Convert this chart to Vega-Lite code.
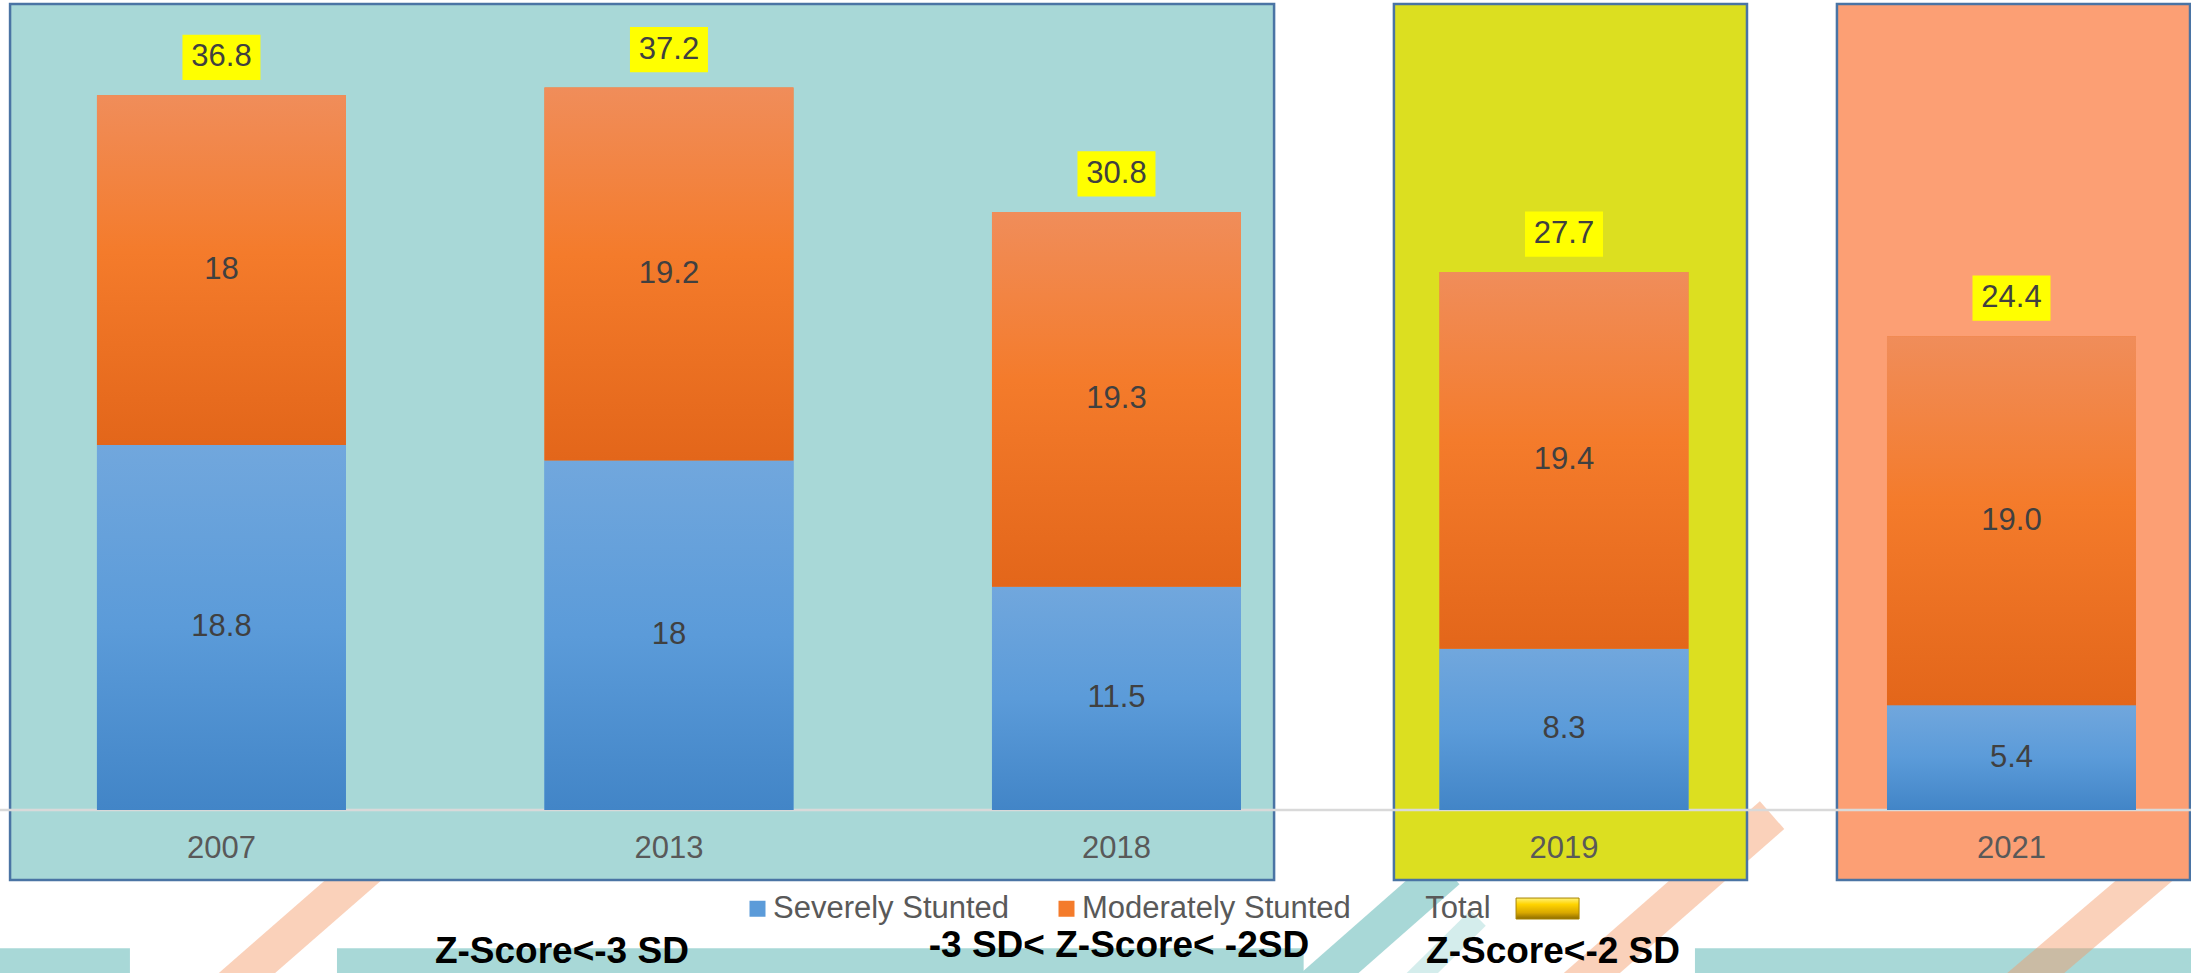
{
  "$schema": "https://vega.github.io/schema/vega-lite/v6.json",
  "width": 2191,
  "height": 973,
  "autosize": {"type": "none"},
  "padding": 0,
  "background": "#FFFFFF",
  "config": {"view": {"stroke": null}, "font": "Liberation Sans"},
  "datasets": {
    "bars": [
      {"year": "2007", "series": "Severely Stunted", "value": 18.8, "label": "18.8"},
      {"year": "2007", "series": "Moderately Stunted", "value": 18, "label": "18"},
      {"year": "2013", "series": "Severely Stunted", "value": 18, "label": "18"},
      {"year": "2013", "series": "Moderately Stunted", "value": 19.2, "label": "19.2"},
      {"year": "2018", "series": "Severely Stunted", "value": 11.5, "label": "11.5"},
      {"year": "2018", "series": "Moderately Stunted", "value": 19.3, "label": "19.3"},
      {"year": "2019", "series": "Severely Stunted", "value": 8.3, "label": "8.3"},
      {"year": "2019", "series": "Moderately Stunted", "value": 19.4, "label": "19.4"},
      {"year": "2021", "series": "Severely Stunted", "value": 5.4, "label": "5.4"},
      {"year": "2021", "series": "Moderately Stunted", "value": 19.0, "label": "19.0"}
    ],
    "totals": [
      {"year": "2007", "total": 36.8},
      {"year": "2013", "total": 37.2},
      {"year": "2018", "total": 30.8},
      {"year": "2019", "total": 27.7},
      {"year": "2021", "total": 24.4}
    ]
  },
  "layer": [
    {
      "layer": [
        {
          "data": {"values": [{"x": 0, "x2": 5.93}, {"x": 15.38, "x2": 59.5}, {"x": 77.36, "x2": 100}]},
          "mark": {"type": "rect", "fill": "#A8D8D7"},
          "encoding": {
            "x": {"field": "x", "type": "quantitative", "scale": {"domain": [0, 100], "nice": false, "zero": false}, "axis": null},
            "x2": {"field": "x2"},
            "y": {"datum": -7.11, "type": "quantitative", "scale": {"domain": [-8.39, 41.71], "nice": false, "zero": false}, "axis": null},
            "y2": {"datum": -9.5}
          }
        },
        {
          "data": {"values": [
            {"x": 9.86, "x2": 17.34, "y": -9.78, "y2": -2.42},
            {"x": 71.25, "x2": 80.88, "y": -9.78, "y2": -0.26},
            {"x": 91.47, "x2": 99.5, "y": -9.78, "y2": -2.06}
          ]},
          "mark": {"type": "rule", "stroke": "#F59A66", "strokeOpacity": 0.45, "strokeWidth": 37},
          "encoding": {
            "x": {"field": "x", "type": "quantitative", "axis": null},
            "x2": {"field": "x2"},
            "y": {"field": "y", "type": "quantitative", "axis": null},
            "y2": {"field": "y2"}
          }
        },
        {
          "data": {"values": [{"x": 59.29, "x2": 66.04, "y": -9.78, "y2": -3.09}]},
          "mark": {"type": "rule", "stroke": "#A8D8D7", "strokeWidth": 38},
          "encoding": {
            "x": {"field": "x", "type": "quantitative", "axis": null},
            "x2": {"field": "x2"},
            "y": {"field": "y", "type": "quantitative", "axis": null},
            "y2": {"field": "y2"}
          }
        },
        {
          "data": {"values": [{"x": 63.67, "x2": 67.46, "y": -9.78, "y2": -5.56}]},
          "mark": {"type": "rule", "stroke": "#D4EDEC", "strokeWidth": 22},
          "encoding": {
            "x": {"field": "x", "type": "quantitative", "axis": null},
            "x2": {"field": "x2"},
            "y": {"field": "y", "type": "quantitative", "axis": null},
            "y2": {"field": "y2"}
          }
        }
      ]
    },
    {
      "layer": [
        {
          "data": {"values": [{"start": "2007", "end": "2018"}]},
          "mark": {"type": "rect", "fill": "#A8D8D7", "stroke": "#4A74A4", "strokeWidth": 2.5},
          "encoding": {
            "x": {"field": "start", "type": "nominal", "bandPosition": -0.349, "title": null, "scale": {"domain": ["2007", "2013", "2018", "2019", "2021"], "paddingInner": 0.4436, "paddingOuter": 0.1698, "align": 0.638}},
            "x2": {"field": "end", "bandPosition": 1.133},
            "y": {"datum": 41.5, "type": "quantitative", "axis": null},
            "y2": {"datum": -3.6}
          }
        },
        {
          "data": {"values": [{"start": "2019", "end": "2019"}]},
          "mark": {"type": "rect", "fill": "#DCDF20", "stroke": "#4A74A4", "strokeWidth": 2.5},
          "encoding": {
            "x": {"field": "start", "type": "nominal", "bandPosition": -0.183, "title": null},
            "x2": {"field": "end", "bandPosition": 1.235},
            "y": {"datum": 41.5, "type": "quantitative", "axis": null},
            "y2": {"datum": -3.6}
          }
        },
        {
          "data": {"values": [{"start": "2021", "end": "2021"}]},
          "mark": {"type": "rect", "fill": "#FC9F74", "stroke": "#4A74A4", "strokeWidth": 2.5},
          "encoding": {
            "x": {"field": "start", "type": "nominal", "bandPosition": -0.201, "title": null},
            "x2": {"field": "end", "bandPosition": 1.217},
            "y": {"datum": 41.5, "type": "quantitative", "axis": null},
            "y2": {"datum": -3.6}
          }
        },
        {
          "data": {"values": [{}]},
          "mark": {"type": "rule", "color": "#D9D9D9", "strokeWidth": 2.5},
          "encoding": {
            "y": {"datum": 0, "type": "quantitative", "axis": null}
          }
        },
        {
          "data": {"name": "bars"},
          "transform": [{"stack": "value", "groupby": ["year"], "sort": [{"field": "series", "order": "descending"}], "as": ["v0", "v1"]}],
          "mark": {"type": "bar"},
          "encoding": {
            "x": {"field": "year", "type": "nominal", "title": null,
              "axis": {"orient": "bottom", "offset": -163, "bandPosition": 0.5, "domain": false, "ticks": false, "grid": false, "labelFontSize": 31, "labelColor": "#595959", "labelFont": "Liberation Sans", "labelPadding": 38, "labelAngle": 0, "labelAlign": "center"}},
            "y": {"field": "v0", "type": "quantitative", "axis": null},
            "y2": {"field": "v1"},
            "color": {
              "field": "series", "type": "nominal",
              "scale": {"domain": ["Severely Stunted", "Moderately Stunted"], "range": ["#5B9BD9", "#F47B2B"]},
              "legend": {"title": null, "orient": "none", "legendX": 742, "legendY": 893, "direction": "horizontal", "symbolType": "square", "symbolSize": 256, "symbolStrokeWidth": 0, "symbolOpacity": 1, "labelFontSize": 31, "labelLimit": 500, "labelColor": "#595959", "labelFont": "Liberation Sans", "labelOffset": 0, "columnPadding": 41, "padding": 0}
            }
          }
        },
        {
          "data": {"name": "bars"},
          "transform": [{"stack": "value", "groupby": ["year"], "sort": [{"field": "series", "order": "descending"}], "as": ["v0", "v1"]}, {"filter": {"field": "series", "equal": "Severely Stunted"}}],
          "mark": {"type": "bar", "fill": {"gradient": "linear", "x1": 0, "y1": 0, "x2": 0, "y2": 1, "stops": [{"offset": 0, "color": "#71A7DD"}, {"offset": 0.5, "color": "#5B9BD9"}, {"offset": 1, "color": "#4285C7"}]}},
          "encoding": {
            "x": {"field": "year", "type": "nominal", "title": null},
            "y": {"field": "v0", "type": "quantitative", "axis": null},
            "y2": {"field": "v1"}
          }
        },
        {
          "data": {"name": "bars"},
          "transform": [{"stack": "value", "groupby": ["year"], "sort": [{"field": "series", "order": "descending"}], "as": ["v0", "v1"]}, {"filter": {"field": "series", "equal": "Moderately Stunted"}}],
          "mark": {"type": "bar", "fill": {"gradient": "linear", "x1": 0, "y1": 0, "x2": 0, "y2": 1, "stops": [{"offset": 0, "color": "#F08D5A"}, {"offset": 0.45, "color": "#F47B2B"}, {"offset": 1, "color": "#E3661A"}]}},
          "encoding": {
            "x": {"field": "year", "type": "nominal", "title": null},
            "y": {"field": "v0", "type": "quantitative", "axis": null},
            "y2": {"field": "v1"}
          }
        },
        {
          "data": {"name": "bars"},
          "mark": {"type": "text", "fontSize": 31, "fill": "#404040", "baseline": "middle", "align": "center"},
          "encoding": {
            "x": {"field": "year", "type": "nominal", "title": null},
            "y": {"field": "value", "type": "quantitative", "stack": "zero", "bandPosition": 0.5, "axis": null},
            "text": {"field": "label"},
            "order": {"field": "series", "sort": "descending"}
          }
        },
        {
          "data": {"name": "totals"},
          "mark": {"type": "point", "shape": "M-1,-0.58L1,-0.58L1,0.58L-1,0.58Z", "size": 6084, "filled": true, "fill": "#FFFF00", "opacity": 1, "strokeWidth": 0, "yOffset": -38},
          "encoding": {
            "x": {"field": "year", "type": "nominal", "title": null},
            "y": {"field": "total", "type": "quantitative", "axis": null}
          }
        },
        {
          "data": {"name": "totals"},
          "mark": {"type": "text", "fontSize": 31, "fill": "#404040", "baseline": "middle", "align": "center", "yOffset": -38},
          "encoding": {
            "x": {"field": "year", "type": "nominal", "title": null},
            "y": {"field": "total", "type": "quantitative", "axis": null},
            "text": {"field": "total", "type": "quantitative", "format": ".1f"}
          }
        },
        {
          "data": {"values": [{"year": "2019", "item": "Total"}]},
          "mark": {"type": "text", "fontSize": 31, "fill": "#595959", "baseline": "middle", "align": "center"},
          "encoding": {
            "x": {"field": "year", "type": "nominal", "bandPosition": 0.074, "title": null},
            "y": {"datum": -5.1, "type": "quantitative", "axis": null},
            "text": {"field": "item"}
          }
        },
        {
          "data": {"values": [{"year": "2019", "item": "Total"}]},
          "mark": {"type": "point", "shape": "M-1,-0.333L1,-0.333L1,0.333L-1,0.333Z", "size": 3969, "filled": true, "opacity": 1, "stroke": "#A88400", "strokeWidth": 1,
            "fill": {"gradient": "linear", "x1": 0, "y1": 0, "x2": 0, "y2": 1, "stops": [{"offset": 0, "color": "#FFF27A"}, {"offset": 0.3, "color": "#FFD400"}, {"offset": 0.7, "color": "#D9A800"}, {"offset": 1, "color": "#8C6B00"}]}},
          "encoding": {
            "x": {"field": "year", "type": "nominal", "bandPosition": 0.434, "title": null},
            "y": {"datum": -5.07, "type": "quantitative", "axis": null}
          }
        },
        {
          "data": {"values": [{"year": "2013", "note": "Z-Score<-3 SD"}]},
          "mark": {"type": "text", "fontSize": 37, "fontWeight": "bold", "fill": "#000000", "baseline": "alphabetic", "align": "center"},
          "encoding": {
            "x": {"field": "year", "type": "nominal", "bandPosition": 0.07, "title": null},
            "y": {"datum": -7.88, "type": "quantitative", "axis": null},
            "text": {"field": "note"}
          }
        },
        {
          "data": {"values": [{"year": "2018", "note": "-3 SD< Z-Score< -2SD"}]},
          "mark": {"type": "text", "fontSize": 37, "fontWeight": "bold", "fill": "#000000", "baseline": "alphabetic", "align": "center"},
          "encoding": {
            "x": {"field": "year", "type": "nominal", "bandPosition": 0.51, "title": null},
            "y": {"datum": -7.55, "type": "quantitative", "axis": null},
            "text": {"field": "note"}
          }
        },
        {
          "data": {"values": [{"year": "2019", "note": "Z-Score<-2 SD"}]},
          "mark": {"type": "text", "fontSize": 37, "fontWeight": "bold", "fill": "#000000", "baseline": "alphabetic", "align": "center"},
          "encoding": {
            "x": {"field": "year", "type": "nominal", "bandPosition": 0.456, "title": null},
            "y": {"datum": -7.88, "type": "quantitative", "axis": null},
            "text": {"field": "note"}
          }
        }
      ]
    }
  ],
  "resolve": {"scale": {"x": "independent"}}
}
